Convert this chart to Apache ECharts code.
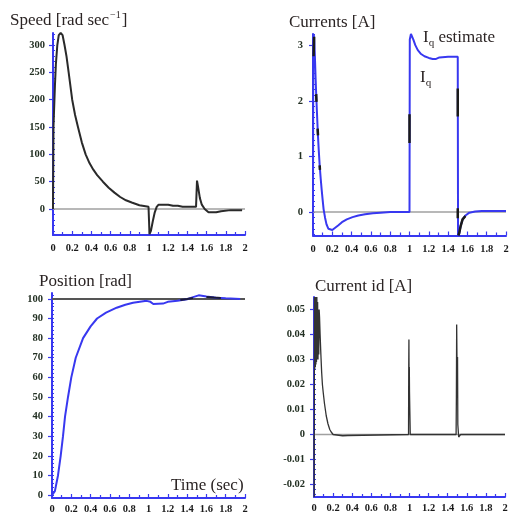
<!DOCTYPE html>
<html>
<head>
<meta charset="utf-8">
<script src="https://cdn.jsdelivr.net/npm/echarts@6/dist/echarts.min.js"></script>
<style>html,body{margin:0;padding:0;background:#fff}#c{width:516px;height:521px}</style>
</head>
<body>
<div id="c"></div>
<script>
// ---- data ----
var xTicks = [0, 0.2, 0.4, 0.6, 0.8, 1, 1.2, 1.4, 1.6, 1.8, 2];
var zeroLineT = [0, 2];

var speedT = [0, 0.005, 0.015, 0.02, 0.03, 0.045, 0.06, 0.08, 0.1, 0.12, 0.14, 0.163, 0.2, 0.23, 0.26, 0.3, 0.34, 0.38, 0.42, 0.46, 0.52, 0.58, 0.64, 0.7, 0.76, 0.82, 0.9, 0.995, 1.0, 1.005, 1.02, 1.04, 1.06, 1.08, 1.1, 1.2, 1.25, 1.3, 1.35, 1.49, 1.5, 1.51, 1.53, 1.55, 1.58, 1.62, 1.7, 1.75, 1.85, 1.97];
var speedV = [0, 150, 150, 225, 265, 300, 318, 322, 318, 300, 280, 250, 200, 172, 150, 122, 100, 84, 72, 62, 50, 39, 30, 22, 16, 12, 7, 4, -20, -46, -40, -22, -6, 4, 8, 8, 6, 6, 4, 4, 52, 42, 20, 8, 0, -6, -6, -4, -2, -2];
var speedTicks = [0, 50, 100, 150, 200, 250, 300];

var iqT = [0, 0.003, 0.008, 0.014, 0.02, 0.027, 0.034, 0.042, 0.05, 0.06, 0.07, 0.08, 0.09, 0.1, 0.11, 0.125, 0.14, 0.16, 0.18, 0.2, 0.23, 0.26, 0.3, 0.35, 0.41, 0.47, 0.54, 0.62, 0.7, 0.8, 1.0, 1.003, 1.015, 1.025, 1.04, 1.06, 1.086, 1.12, 1.155, 1.2, 1.24, 1.27, 1.31, 1.4, 1.5, 1.503, 1.515, 1.53, 1.55, 1.58, 1.62, 1.68, 1.75, 2.0];
var iqV = [0, 3.15, 3.2, 3.05, 2.78, 2.4, 2.07, 1.75, 1.42, 1.1, 0.82, 0.6, 0.4, 0.22, 0.05, -0.1, -0.22, -0.3, -0.33, -0.32, -0.28, -0.24, -0.18, -0.13, -0.09, -0.06, -0.04, -0.02, -0.01, 0, 0, 3.1, 3.2, 3.18, 3.1, 3.0, 2.91, 2.84, 2.8, 2.77, 2.75, 2.75, 2.78, 2.79, 2.79, -0.42, -0.38, -0.25, -0.13, -0.06, -0.01, 0.01, 0.02, 0.02];
// Iq estimate: visible pieces (null = gap)
var iqEstT = [0.006, 0.012, null, 0.033, 0.036, null, 0.048, 0.052, null, 0.069, 0.072, null, 1.0, 1.0, null, 1.5, 1.5, null, 1.5, 1.5, null, 1.506, 1.515, 1.53, 1.55, 1.58];
var iqEstV = [2.8, 3.15, null, 2.12, 1.98, null, 1.5, 1.38, null, 0.84, 0.76, null, 1.24, 1.76, null, 2.22, 1.72, null, 0.07, -0.11, null, -0.42, -0.38, -0.25, -0.13, -0.07];
var iqTicks = [0, 1, 2, 3];

var posT = [0, 0.03, 0.062, 0.09, 0.114, 0.135, 0.166, 0.2, 0.246, 0.322, 0.4, 0.467, 0.56, 0.67, 0.76, 0.84, 0.98, 1.02, 1.05, 1.15, 1.2, 1.3, 1.4, 1.47, 1.52, 1.6, 1.7, 1.8, 1.95];
var posV = [0, 2, 10, 20, 30, 40, 50, 60, 70, 80, 86, 90, 93, 95.5, 97, 98, 99, 98.5, 97.4, 97.6, 98.5, 99, 99.8, 101, 101.8, 101.2, 100.6, 100.3, 100];
var posRefT = [0, 2];
var posRefV = [100, 100];
var posEstT = [1.33, 1.4, 1.46, null, 1.6, 1.68, 1.75];
var posEstV = [99.4, 99.9, 100.4, null, 101.0, 100.7, 100.5];
var posTicks = [0, 10, 20, 30, 40, 50, 60, 70, 80, 90, 100];

var idT = [0, 0.002, 0.005, 0.008, 0.011, 0.014, 0.017, 0.02, 0.023, 0.026, 0.03, 0.034, 0.038, 0.042, 0.046, 0.05, 0.054, 0.058, 0.064, 0.072, 0.08, 0.088, 0.096, 0.11, 0.128, 0.146, 0.165, 0.18, 0.2, 0.216, 0.3, 0.355, 0.36, 0.99, 0.992, 0.994, 0.996, 0.998, 1.0, 1.004, 1.008, 1.015, 1.03, 1.488, 1.491, 1.494, 1.497, 1.5, 1.503, 1.506, 1.512, 1.515, 1.525, 1.535, 2.0];
var idV = [0, -0.025, 0.055, 0.026, 0.055, 0.027, 0.055, 0.028, 0.055, 0.029, 0.055, 0.03, 0.053, 0.03, 0.05, 0.032, 0.05, 0.047, 0.04, 0.032, 0.025, 0.02, 0.017, 0.0123, 0.0075, 0.0043, 0.002, 0.001, 0, -0.0004, -0.0005, -0.0004, 0, 0, 0.027, 0.038, 0.017, 0.027, 0.017, 0.017, 0, -0.0008, 0, 0, 0.015, 0.044, 0.031, 0.015, 0.031, 0.004, 0.004, -0.001, -0.0008, 0, 0];
var idTicks = [-0.02, -0.01, 0, 0.01, 0.02, 0.03, 0.04, 0.05];

// ---- helpers ----
function zip(t, v) { var o = []; for (var i = 0; i < t.length; i++) { o.push(t[i] === null ? [null, null] : [t[i], v[i]]); } return o; }
function range(a, b, s) { var o = []; for (var k = 0; a + k * s <= b + 1e-9; k++) { o.push(+(a + k * s).toFixed(6)); } return o; }

var BLUE = '#3838f0';
var SERIF = 'Liberation Serif';
var TXT = '#2b2424';

function xAxis(g, margin) {
  return {
    type: 'value', gridIndex: g, min: 0, max: 2, interval: 0.2,
    axisLine: { show: true, onZero: false, lineStyle: { color: BLUE, width: 2 } },
    axisTick: { show: true, inside: true, length: 4, lineStyle: { color: BLUE, width: 1.2 } },
    minorTick: { show: true, splitNumber: 2, length: 3, lineStyle: { color: BLUE, width: 1.2 } },
    axisLabel: { margin: margin, fontFamily: SERIF, fontSize: 10.5, fontWeight: 'bold', color: '#1a1a1a', showMinLabel: true, showMaxLabel: true,
      formatter: function (v) { return String(+v.toFixed(1)); } },
    splitLine: { show: false }
  };
}
function yAxes(g, min, max, ticks, minor, margin, fmt) {
  return [{
    type: 'value', gridIndex: g, min: min, max: max, position: 'left',
    axisLine: { show: true, lineStyle: { color: BLUE, width: 2 } },
    axisTick: { show: true, inside: false, length: 4, customValues: ticks, lineStyle: { color: BLUE, width: 1.2 } },
    axisLabel: { customValues: ticks, margin: margin, fontFamily: SERIF, fontSize: 10.5, fontWeight: 'bold', color: '#233023', formatter: fmt },
    splitLine: { show: false }
  }, {
    type: 'value', gridIndex: g, min: min, max: max, position: 'left', offset: 0,
    axisLine: { show: false },
    axisTick: { show: true, inside: true, length: 2, customValues: minor, lineStyle: { color: BLUE, width: 1 } },
    axisLabel: { show: false },
    splitLine: { show: false }
  }];
}
function fmtPlain(v) { return String(+v.toFixed(4)); }
function fmtId(v) { return Math.abs(v) < 1e-9 ? '0' : v.toFixed(2); }

var titleStyle = { fontFamily: SERIF, fontSize: 17, fontWeight: 'normal', color: TXT };

var option = {
  animation: false,
  backgroundColor: '#fff',
  title: [
    { left: 5, top: 4, text: '{a|Speed [rad sec}{s|−1}{a|]}', textStyle: { fontWeight: 'normal', rich: {
      a: { fontFamily: SERIF, fontSize: 17, fontWeight: 'normal', color: TXT, lineHeight: 20, verticalAlign: 'bottom' },
      s: { fontFamily: SERIF, fontSize: 10, fontWeight: 'normal', color: TXT, lineHeight: 12, verticalAlign: 'top', padding: [1, 1, 0, 1] } } } },
    { left: 284, top: 9, text: 'Currents [A]', textStyle: titleStyle },
    { left: 34, top: 268, text: 'Position [rad]', textStyle: titleStyle },
    { left: 310, top: 273, text: 'Current id [A]', textStyle: titleStyle },
    { left: 166, top: 472, text: 'Time (sec)', textStyle: titleStyle },
    { left: 418, top: 24, text: '{a|I}{q|q}{a| estimate}', textStyle: { fontWeight: 'normal', rich: {
      a: { fontFamily: SERIF, fontSize: 17, fontWeight: 'normal', color: TXT, lineHeight: 20, verticalAlign: 'top' },
      q: { fontFamily: SERIF, fontSize: 11, fontWeight: 'normal', color: TXT, lineHeight: 12, verticalAlign: 'bottom' } } } },
    { left: 415, top: 64, text: '{a|I}{q|q}', textStyle: { fontWeight: 'normal', rich: {
      a: { fontFamily: SERIF, fontSize: 17, fontWeight: 'normal', color: TXT, lineHeight: 20, verticalAlign: 'top' },
      q: { fontFamily: SERIF, fontSize: 11, fontWeight: 'normal', color: TXT, lineHeight: 12, verticalAlign: 'bottom' } } } }
  ],
  grid: [
    { left: 53, top: 33, width: 192, height: 202 },
    { left: 313, top: 34, width: 193, height: 201.5 },
    { left: 52, top: 293, width: 193, height: 205 },
    { left: 314, top: 297, width: 191, height: 200 }
  ],
  xAxis: [xAxis(0, 8), xAxis(1, 8), xAxis(2, 6), xAxis(3, 6)],
  yAxis: [].concat(
    yAxes(0, -47.5, 322, speedTicks, range(-40, 320, 10), 8, fmtPlain),
    yAxes(1, -0.42, 3.2, iqTicks, range(-0.4, 3.2, 0.1), 10, fmtPlain),
    yAxes(2, -1.5, 103, posTicks, range(0, 102, 2), 9, fmtPlain),
    yAxes(3, -0.025, 0.055, idTicks, range(-0.024, 0.054, 0.002), 9, fmtId)
  ),
  series: [
    { type: 'line', xAxisIndex: 0, yAxisIndex: 0, data: zip(zeroLineT, [0, 0]), symbol: 'none', lineStyle: { color: '#a0a0a0', width: 1.5 }, silent: true },
    { type: 'line', name: 'Speed', xAxisIndex: 0, yAxisIndex: 0, data: zip(speedT, speedV), symbol: 'none', lineStyle: { color: '#2a2a2a', width: 2 } },

    { type: 'line', xAxisIndex: 1, yAxisIndex: 2, data: zip(zeroLineT, [0, 0]), symbol: 'none', lineStyle: { color: '#a0a0a0', width: 1.5 }, silent: true },
    { type: 'line', name: 'Iq', xAxisIndex: 1, yAxisIndex: 2, data: zip(iqT, iqV), symbol: 'none', lineStyle: { color: BLUE, width: 2 } },
    { type: 'line', name: 'Iq estimate', xAxisIndex: 1, yAxisIndex: 2, data: zip(iqEstT, iqEstV), symbol: 'none', connectNulls: false, lineStyle: { color: '#1a1a1a', width: 2.5 } },

    { type: 'line', name: 'Reference', xAxisIndex: 2, yAxisIndex: 4, data: zip(posRefT, posRefV), symbol: 'none', lineStyle: { color: '#555', width: 2 } },
    { type: 'line', name: 'Position', xAxisIndex: 2, yAxisIndex: 4, data: zip(posT, posV), symbol: 'none', lineStyle: { color: BLUE, width: 2 } },
    { type: 'line', name: 'Position estimate', xAxisIndex: 2, yAxisIndex: 4, data: zip(posEstT, posEstV), symbol: 'none', connectNulls: false, lineStyle: { color: '#1a1a3a', width: 2 } },

    { type: 'line', xAxisIndex: 3, yAxisIndex: 6, data: zip(zeroLineT, [0, 0]), symbol: 'none', lineStyle: { color: '#a0a0a0', width: 1.5 }, silent: true },
    { type: 'line', name: 'id', xAxisIndex: 3, yAxisIndex: 6, data: zip(idT, idV), symbol: 'none', lineStyle: { color: '#333', width: 1.3 } }
  ]
};
var chart = echarts.init(document.getElementById('c'));
chart.setOption(option);
</script>
</body>
</html>
